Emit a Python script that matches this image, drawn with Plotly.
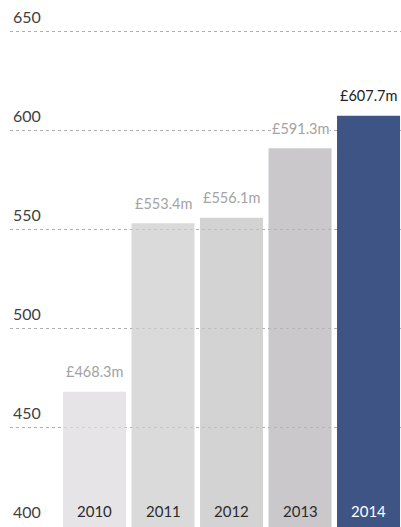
import plotly.graph_objects as go

# Revenue by year (£m)
years = [2010, 2011, 2012, 2013, 2014]
revenue = [468.3, 553.4, 556.1, 591.3, 607.7]
value_labels = ["£468.3m", "£553.4m", "£556.1m", "£591.3m", "£607.7m"]
bar_colors = ["#dedbdd", "#cfcdcf", "#c6c4c6", "#b8b6ba", "#3d5485"]
bar_opacity = [0.75, 0.75, 0.75, 0.75, 1.0]
label_colors = ["#a3a3a3", "#a3a3a3", "#a3a3a3", "#a3a3a3", "#222222"]
year_text_colors = ["#2b2b2b", "#2b2b2b", "#2b2b2b", "#2b2b2b", "#ffffff"]
y_ticks = [400, 450, 500, 550, 600, 650]

FONT = "Lato, 'Open Sans', sans-serif"

fig = go.Figure(
    go.Bar(
        x=years,
        y=revenue,
        base=0,
        width=0.92,
        marker=dict(color=bar_colors, opacity=bar_opacity, line=dict(width=0)),
        hoverinfo="skip",
    )
)

annotations = []
for yr, val, lbl, lc, tc in zip(years, revenue, value_labels, label_colors, year_text_colors):
    # value label above each bar
    annotations.append(dict(
        x=yr, y=val, text=lbl, showarrow=False, xref="x", yref="y",
        yanchor="middle", yshift=20,
        font=dict(family=FONT, size=14.5, color=lc),
        bgcolor="#ffffff", borderpad=0,
    ))
    # year label at the foot of each bar
    annotations.append(dict(
        x=yr, y=400, text=str(yr), showarrow=False, xref="x", yref="y",
        yanchor="bottom", yshift=5,
        font=dict(family=FONT, size=15, color=tc),
    ))

fig.update_layout(
    width=401,
    height=527,
    margin=dict(l=10, r=0, t=4, b=0),
    paper_bgcolor="#ffffff",
    plot_bgcolor="#ffffff",
    showlegend=False,
    annotations=annotations,
    xaxis=dict(
        range=[years[0] - 1.234, years[-1] + 0.474],
        showticklabels=False, showgrid=False, zeroline=False,
        showline=False, ticks="",
    ),
    yaxis=dict(
        range=[400, 664.1],
        tickvals=y_ticks,
        ticktext=[str(t) for t in y_ticks],
        ticklabelposition="inside",
        ticklabelshift=-15,
        ticklabelstandoff=0,
        tickfont=dict(family=FONT, size=16, color="#3f3f3f"),
        showgrid=True,
        gridcolor="#b0b0b0",
        gridwidth=1,
        griddash="3px,3px",
        zeroline=False,
        showline=False,
        ticks="",
    ),
)

fig.write_html("out.html")
